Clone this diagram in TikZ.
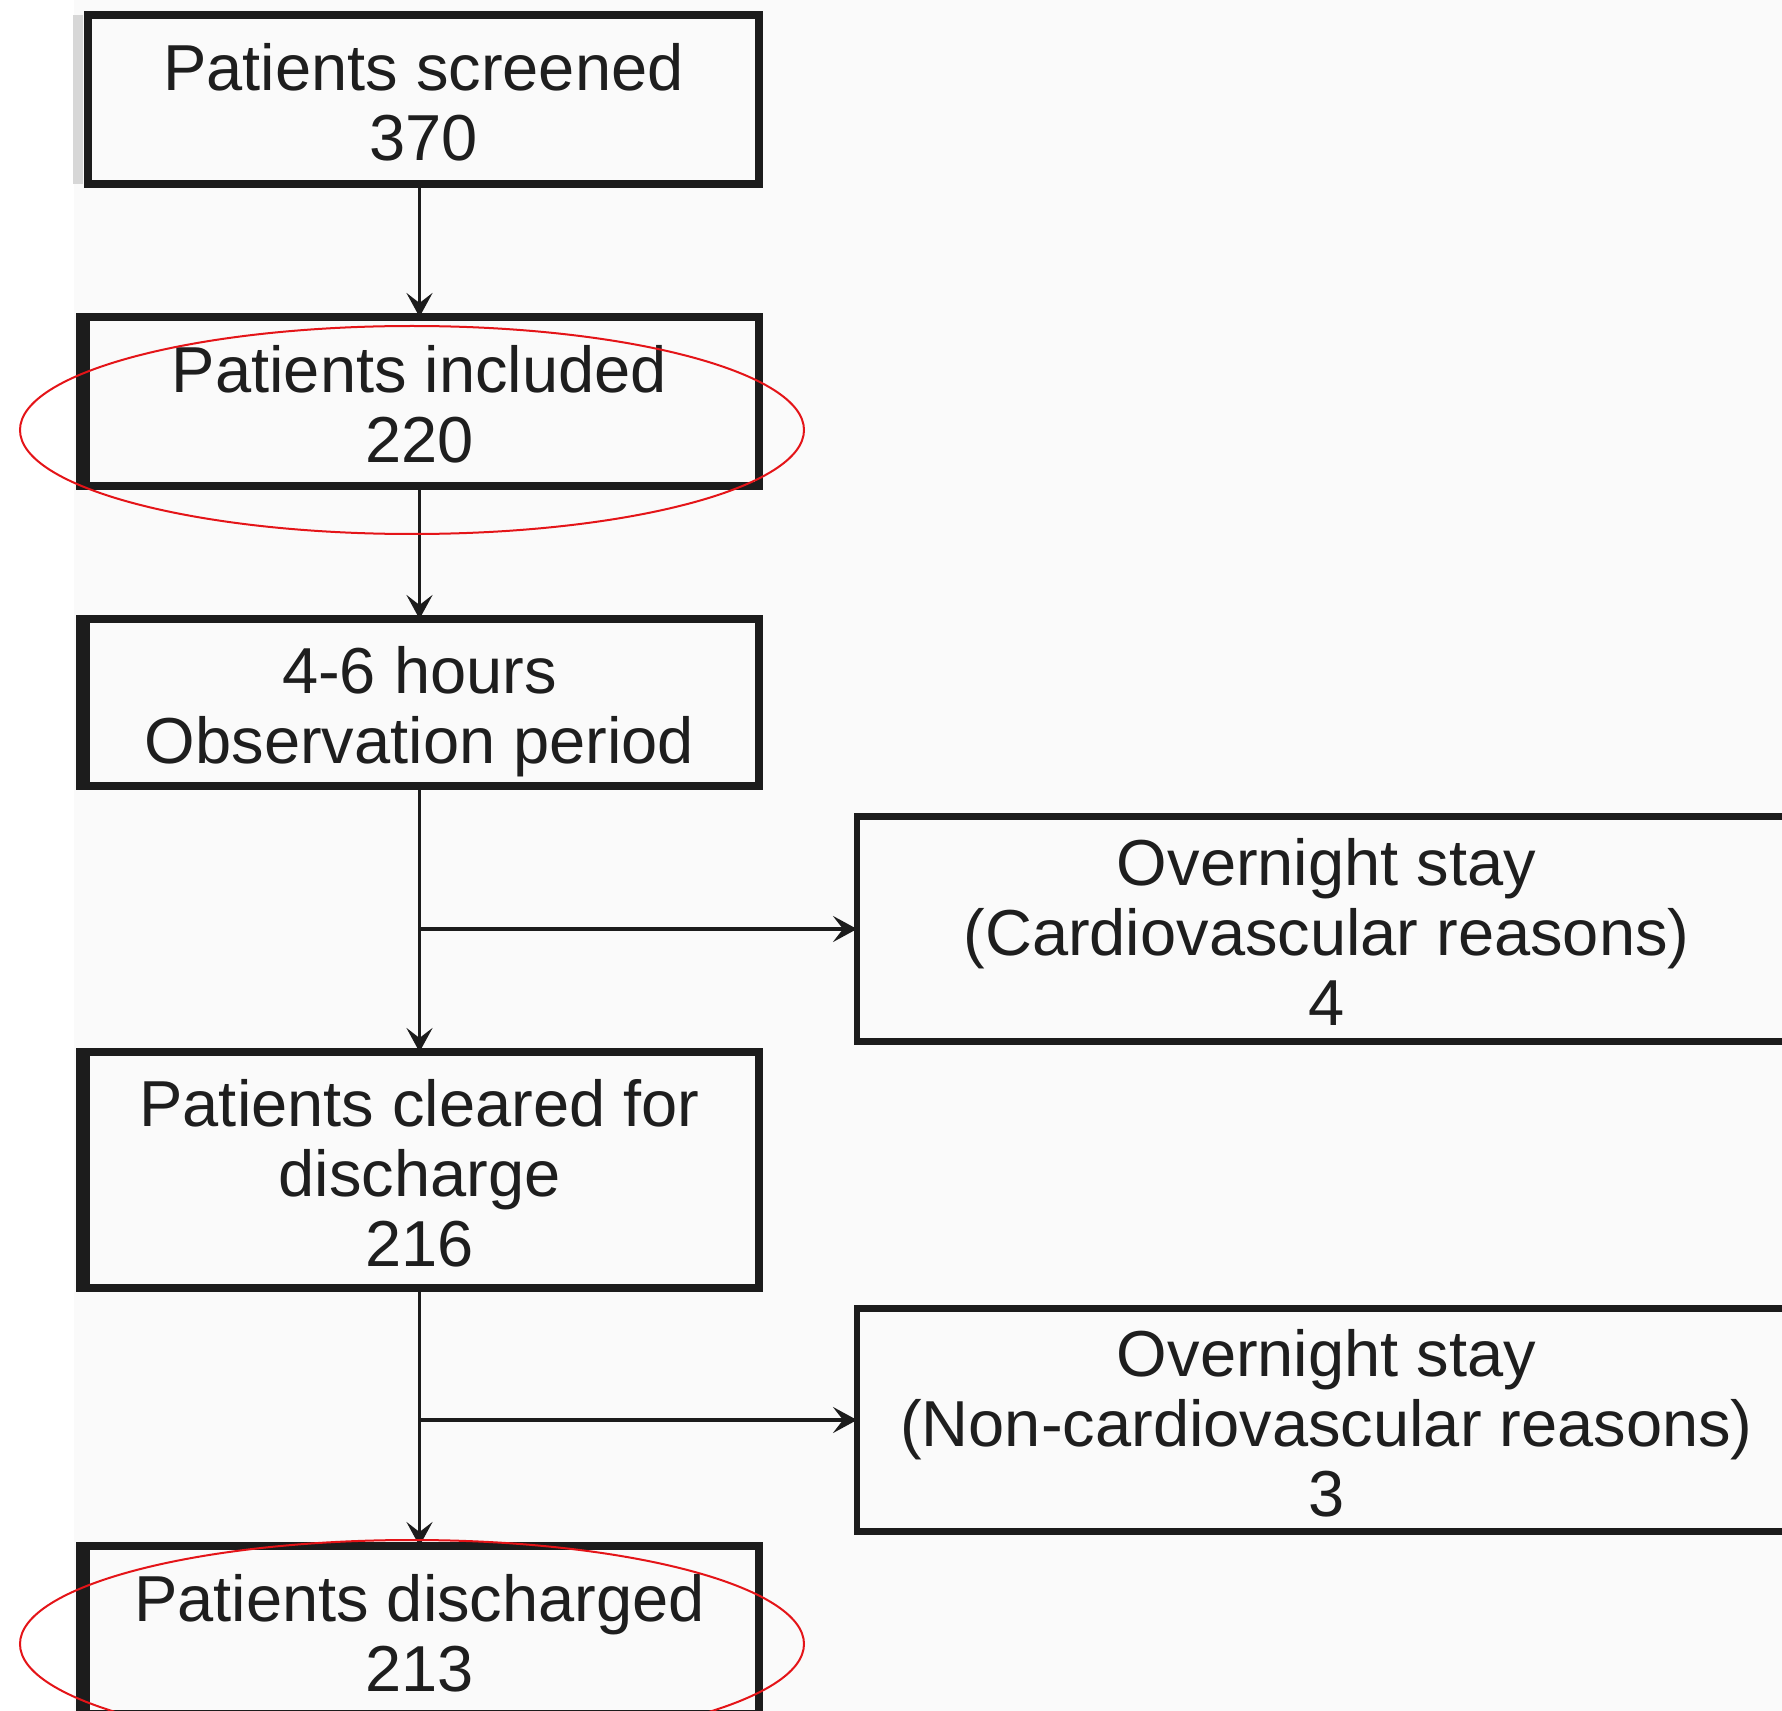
\documentclass[tikz,border=0pt]{standalone}
\usepackage{fontspec}
\setmainfont{Liberation Sans}
\usetikzlibrary{arrows.meta}
\definecolor{ink}{RGB}{28,28,28}
\definecolor{txt}{RGB}{30,30,30}
\definecolor{ringred}{RGB}{228,20,24}
\definecolor{bgg}{RGB}{250,250,250}
\definecolor{shade}{RGB}{215,215,215}
\newcommand{\hs}{\rule{0pt}{33pt}}
\newcommand{\ds}{\rule[-7pt]{0pt}{0pt}}
\tikzset{
  box/.style={draw=ink, line width=3.8pt, rectangle, outer sep=0pt, inner sep=0pt,
    align=center, text=txt, font=\fontsize{32.5}{35}\selectfont},
  sidebox/.style={box, line width=3.4pt},
  arr/.style={draw=ink, line width=1.7pt, -{Stealth[length=12pt,width=13pt,inset=5pt]}},
  ring/.style={draw=ringred, line width=1pt},
  leftbar/.style={draw=ink, line width=4pt}
}
\begin{document}
\begin{tikzpicture}[x=0.5pt,y=-0.5pt]
\useasboundingbox (0,0) rectangle (1782,1711);
\clip (0,0) rectangle (1782,1711);
\fill[bgg] (74,0) rectangle (1782,1711);

\node[box, minimum width=335.5pt, minimum height=84.5pt] (b1) at (423.5,99.5) {\hs Patients screened\\370\ds};
\node[box, minimum width=339.5pt, minimum height=84.5pt] (b2) at (419.5,401.5) {\hs Patients included\\220\ds};
\node[box, minimum width=339.5pt, minimum height=83.5pt] (b3) at (419.5,702.5) {\hs 4-6 hours\\Observation period\ds};
\node[box, minimum width=339.5pt, minimum height=118pt] (b4) at (419.5,1170) {\hs Patients cleared for\\discharge\\216\ds};
\node[box, minimum width=339.5pt, minimum height=84pt] (b5) at (419.5,1630) {\hs Patients discharged\\213\ds};
\node[sidebox, minimum width=469.5pt, minimum height=112.5pt] (bA) at (1326.5,929) {\hs Overnight stay\\(Cardiovascular reasons)\\4\ds};
\node[sidebox, minimum width=469.5pt, minimum height=111.5pt] (bB) at (1326.5,1420) {\hs Overnight stay\\(Non-cardiovascular reasons)\\3\ds};

% heavier left edges / shadow as in the scan
\draw[draw=shade, line width=5pt] ([xshift=-5pt]b1.north west) -- ([xshift=-5pt]b1.south west);
\foreach \b in {b2,b3,b4,b5}
  \draw[leftbar] ([xshift=3pt]\b.north west) -- ([xshift=3pt]\b.south west);

\coordinate (j1) at (b3.south |- bA.west);
\coordinate (j2) at (b4.south |- bB.west);

\draw[arr] (b2.north |- b1.south) -- (b2.north);
\draw[arr] (b2.south) -- (b3.north);
\draw[arr] (b3.south) -- (b4.north);
\draw[arr] (j1) -- (bA.west);
\draw[arr] (b4.south) -- (b5.north);
\draw[arr] (j2) -- (bB.west);

\draw[ring] (412,430) ellipse [x radius=196pt, y radius=52pt];
\draw[ring] (412,1644) ellipse [x radius=196pt, y radius=52pt];
\end{tikzpicture}
\end{document}
